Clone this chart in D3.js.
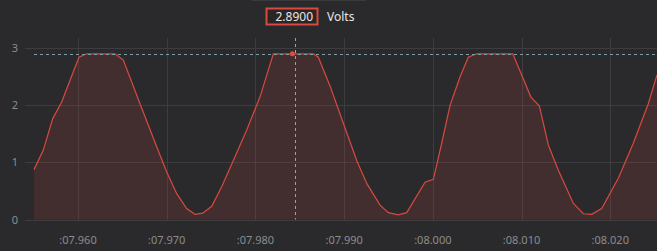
<!DOCTYPE html>
<html>
<head>
<meta charset="utf-8">
<script src="https://cdn.jsdelivr.net/npm/d3@7"></script>
<style>
  html, body { margin: 0; padding: 0; background: #2a2a2c; overflow: hidden; }
  svg { display: block; font-family: "Noto Sans", sans-serif; }
  .grid line { stroke: #3d3d3f; stroke-width: 1; }
  .tick-label { fill: #8c8c8c; font-size: 11px; }
</style>
</head>
<body>
<div id="chart"></div>
<script>
const width = 657;
const height = 251;

// sample times (seconds) and voltage readings
const times = [
  7.95504, 7.95609, 7.95715, 7.95816, 7.95918, 7.96011, 7.96098, 7.96417, 7.96511,
  7.96699, 7.96887, 7.97000, 7.97113, 7.97225, 7.97319, 7.97406, 7.97507, 7.97620,
  7.97751, 7.97902, 7.98052, 7.98202, 7.98653, 7.98709, 7.98841, 7.98991, 7.99142,
  7.99255, 7.99405, 7.99498, 7.99611, 7.99706, 7.99912, 8.00006, 8.00100, 8.00194,
  8.00307, 8.00400, 8.00495, 8.00901, 8.01002, 8.01104, 8.01201, 8.01302, 8.01415,
  8.01584, 8.01697, 8.01791, 8.01904, 8.02091, 8.02260, 8.02429, 8.02527
];
const volts = [
  0.87, 1.21, 1.76, 2.05, 2.46, 2.83, 2.89, 2.89, 2.78,
  2.02, 1.27, 0.83, 0.45, 0.19, 0.09, 0.11, 0.23, 0.57,
  1.03, 1.56, 2.14, 2.89, 2.89, 2.83, 2.33, 1.68, 1.03,
  0.63, 0.25, 0.12, 0.08, 0.12, 0.65, 0.70, 1.33, 1.99,
  2.49, 2.83, 2.89, 2.89, 2.52, 2.14, 1.98, 1.30, 0.86,
  0.28, 0.10, 0.09, 0.19, 0.72, 1.33, 2.02, 2.52
];
const xTicks = [7.96, 7.97, 7.98, 7.99, 8.00, 8.01, 8.02];
const yTicks = [0, 1, 2, 3];
const cursorTime = 7.9845;
const cursorValue = 2.89;
const unitLabel = 'Volts';

const data = times.map((t, i) => ({t, v: volts[i]}));

const x = d3.scaleLinear().domain([times[0], times[times.length - 1]]).range([34, 657]);
const y = d3.scaleLinear().domain([0, 3]).range([219.5, 47.5]);

const svg = d3.select('#chart')
    .append('svg')
    .attr('width', width)
    .attr('height', height);

// faint header separator
svg.append('line')
    .attr('x1', 252).attr('x2', 366)
    .attr('y1', 0.5).attr('y2', 0.5)
    .attr('stroke', '#3a3a3c');

// readout box
svg.append('rect')
    .attr('x', 266.5).attr('y', 8.5)
    .attr('width', 51).attr('height', 16)
    .attr('fill', '#2b2526')
    .attr('stroke', '#d8493f')
    .attr('stroke-width', 2);

svg.append('text')
    .attr('x', 313).attr('y', 21)
    .attr('text-anchor', 'end')
    .attr('fill', '#e6e6e6')
    .attr('font-size', 12)
    .text(d3.format('.4f')(cursorValue));

svg.append('text')
    .attr('x', 327).attr('y', 21)
    .attr('fill', '#e6e6e6')
    .attr('font-size', 12)
    .text(unitLabel);

// grid
const grid = svg.append('g').attr('class', 'grid');
grid.selectAll('line.h')
    .data(yTicks)
    .enter()
    .append('line')
    .attr('x1', 25).attr('x2', width)
    .attr('y1', d => Math.round(y(d)) + 0.5)
    .attr('y2', d => Math.round(y(d)) + 0.5);

grid.selectAll('line.v')
    .data(xTicks)
    .enter()
    .append('line')
    .attr('x1', d => Math.round(x(d)) + 0.5)
    .attr('x2', d => Math.round(x(d)) + 0.5)
    .attr('y1', 38).attr('y2', Math.round(y(0)));

// tick labels
svg.append('g')
    .selectAll('text')
    .data(yTicks)
    .enter()
    .append('text')
    .attr('class', 'tick-label')
    .attr('x', 15)
    .attr('y', d => y(d) + 4)
    .attr('text-anchor', 'middle')
    .text(d => d);

const fmtTime = d => ':' + d3.format('06.3f')(d);
svg.append('g')
    .selectAll('text')
    .data(xTicks)
    .enter()
    .append('text')
    .attr('class', 'tick-label')
    .attr('x', d => x(d))
    .attr('y', 244)
    .attr('text-anchor', 'middle')
    .text(fmtTime);

// area + line
const area = d3.area()
    .x(d => x(d.t))
    .y0(y(0))
    .y1(d => y(d.v));

const line = d3.line()
    .x(d => x(d.t))
    .y(d => y(d.v));

svg.append('path')
    .datum(data)
    .attr('fill', '#d8493f')
    .attr('fill-opacity', 0.14)
    .attr('d', area);

svg.append('path')
    .datum(data)
    .attr('fill', 'none')
    .attr('stroke', '#d8493f')
    .attr('stroke-width', 1.2)
    .attr('d', line);

// cursor crosshair
svg.append('line')
    .attr('x1', 34).attr('x2', width)
    .attr('y1', Math.round(y(cursorValue)) + 0.5)
    .attr('y2', Math.round(y(cursorValue)) + 0.5)
    .attr('stroke', '#7f9fa6')
    .attr('stroke-dasharray', '3,3');

svg.append('line')
    .attr('x1', Math.round(x(cursorTime)) + 0.5)
    .attr('x2', Math.round(x(cursorTime)) + 0.5)
    .attr('y1', 38).attr('y2', y(0))
    .attr('stroke', '#9aa3a6')
    .attr('stroke-dasharray', '3,3');

svg.append('circle')
    .attr('cx', x(cursorTime) - 3)
    .attr('cy', y(cursorValue))
    .attr('r', 2.5)
    .attr('fill', '#e8473c');
</script>
</body>
</html>
